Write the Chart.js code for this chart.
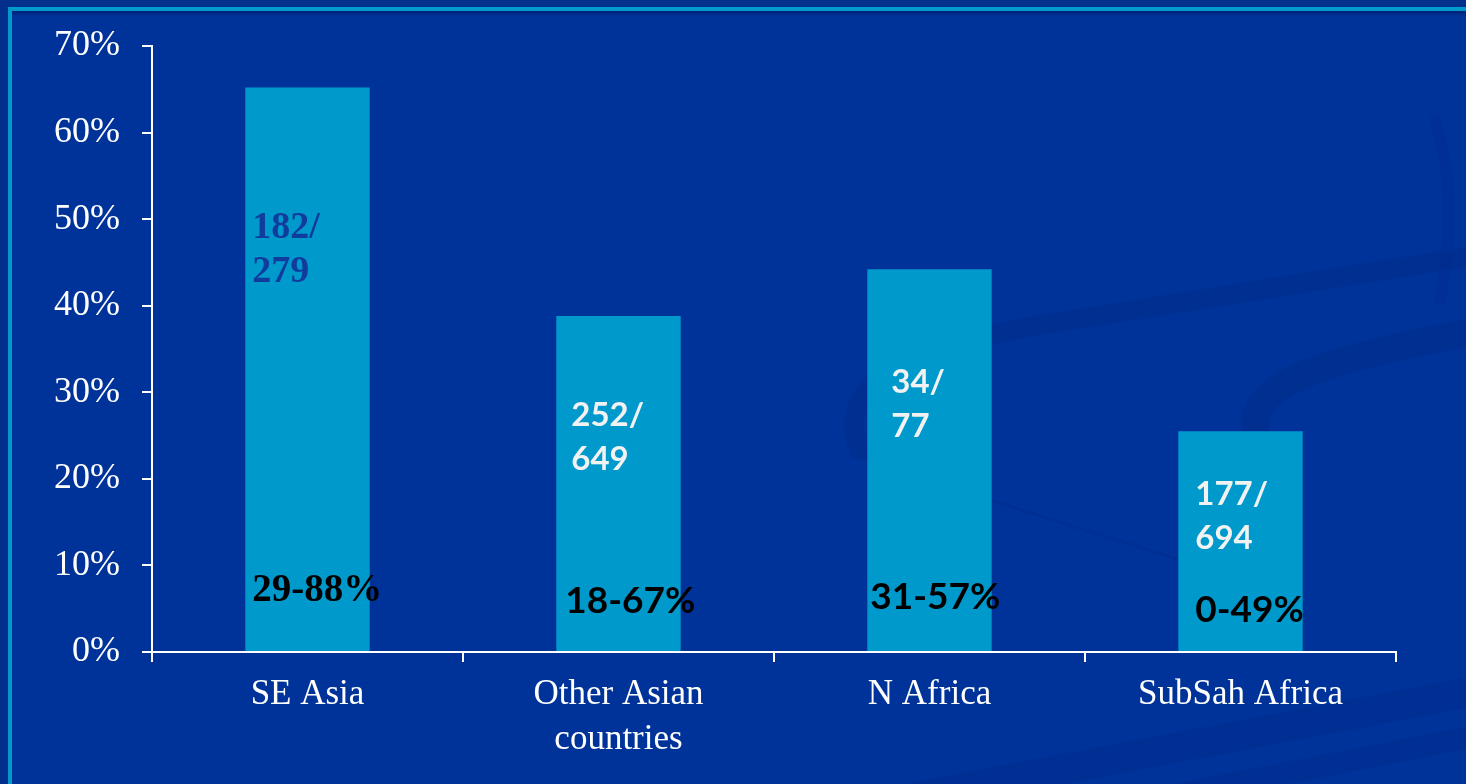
<!DOCTYPE html>
<html>
<head>
<meta charset="utf-8">
<script src="https://cdn.jsdelivr.net/npm/chart.js@4/dist/chart.umd.min.js"></script>
<style>
  html, body { margin: 0; padding: 0; background: #003399; }
  #wrap { width: 1466px; height: 784px; }
</style>
</head>
<body>
<div id="wrap"><canvas id="chart" width="1466" height="784"></canvas></div>
<script>
// regions and share of positives (%)
const categories = ['SE Asia', ['Other Asian', 'countries'], 'N Africa', 'SubSah Africa'];
const shares = [65.2, 38.8, 44.2, 25.5];
const positives = [182, 252, 34, 177];
const tested = [279, 649, 77, 694];
const ranges = ['29-88%', '18-67%', '31-57%', '0-49%'];
const yTicks = [0, 10, 20, 30, 40, 50, 60, 70];

// where each note sits: offset from bar's left edge, value-axis heights
const notePlacement = [
  { dxCount: 7,  countAt: 48.9, dxRange: 7,  rangeAt: 7.0 },
  { dxCount: 15, countAt: 27.3, dxRange: 9,  rangeAt: 5.9 },
  { dxCount: 24, countAt: 31.1, dxRange: 3,  rangeAt: 6.4 },
  { dxCount: 17, countAt: 18.2, dxRange: 17, rangeAt: 4.9 },
];

const SERIF = '"Liberation Serif", "Times New Roman", serif';
const SANS = 'Lato, "Noto Sans", sans-serif';

// slide backdrop: frame line, shadow and faint swooshes
const backdrop = {
  id: 'backdrop',
  beforeDraw(chart) {
    const c = chart.ctx;
    const w = chart.width, h = chart.height;
    c.save();
    c.fillStyle = '#002f8c';
    c.fillRect(0, 0, w, h);
    c.fillStyle = '#003399';
    c.fillRect(11, 11, w - 11, h - 11);

    // soft shadow under the top rule
    const g = c.createLinearGradient(0, 11, 0, 16);
    g.addColorStop(0, 'rgba(0,25,100,0.7)');
    g.addColorStop(1, 'rgba(0,25,100,0)');
    c.fillStyle = g;
    c.fillRect(11, 11, w - 11, 5);

    c.lineCap = 'round';
    c.strokeStyle = 'rgba(0,35,120,0.2)';
    c.lineWidth = 20;
    c.beginPath();
    c.moveTo(860, 450);
    c.bezierCurveTo(830, 380, 920, 345, 1040, 325);
    c.lineTo(1480, 255);
    c.stroke();

    c.lineWidth = 28;
    c.beginPath();
    c.moveTo(1255, 430);
    c.bezierCurveTo(1250, 380, 1330, 360, 1480, 330);
    c.stroke();

    c.lineWidth = 3;
    c.strokeStyle = 'rgba(0,35,120,0.18)';
    c.beginPath();
    c.moveTo(990, 500);
    c.lineTo(1180, 560);
    c.stroke();

    c.lineWidth = 12;
    c.strokeStyle = 'rgba(0,35,120,0.12)';
    c.beginPath();
    c.moveTo(1435, 120);
    c.bezierCurveTo(1455, 180, 1450, 250, 1440, 300);
    c.stroke();

    c.lineWidth = 30;
    c.strokeStyle = 'rgba(0,35,120,0.18)';
    c.beginPath();
    c.moveTo(900, 800);
    c.lineTo(1480, 690);
    c.stroke();
    c.lineWidth = 22;
    c.beginPath();
    c.moveTo(1150, 800);
    c.lineTo(1480, 735);
    c.stroke();

    // cyan frame rule, top and left
    c.fillStyle = '#0099cc';
    c.fillRect(8, 7, w - 8, 4);
    c.fillRect(8, 7, 4, h - 7);
    c.restore();
  }
};

// counts and ranges written inside the bars
const barNotes = {
  id: 'barNotes',
  afterDatasetsDraw(chart) {
    const c = chart.ctx;
    const y = chart.scales.y;
    const bars = chart.getDatasetMeta(0).data;
    c.save();
    c.textAlign = 'left';
    c.textBaseline = 'middle';
    bars.forEach((bar, i) => {
      const left = bar.x - bar.width / 2;
      const p = notePlacement[i];
      const top = y.getPixelForValue(p.countAt);
      if (i === 0) {
        c.font = 'bold 38px ' + SERIF;
        c.fillStyle = '#103c9e';
      } else {
        c.font = 'bold 33px ' + SANS;
        c.fillStyle = '#f2f2f2';
      }
      c.fillText(positives[i] + '/', left + p.dxCount, top);
      c.fillText(String(tested[i]), left + p.dxCount, top + 44);

      c.fillStyle = '#000000';
      c.font = i === 0 ? 'bold 39px ' + SERIF : 'bold 37px ' + SANS;
      c.fillText(ranges[i], left + p.dxRange, y.getPixelForValue(p.rangeAt));
    });
    c.restore();
  }
};

new Chart(document.getElementById('chart'), {
  type: 'bar',
  data: {
    labels: categories,
    datasets: [{
      data: shares,
      backgroundColor: '#0099cc',
      borderWidth: 0,
      categoryPercentage: 1,
      barPercentage: 0.4,
    }]
  },
  options: {
    responsive: false,
    animation: false,
    layout: { padding: { top: 46, right: 70, left: 0, bottom: 0 } },
    plugins: {
      legend: { display: false },
      tooltip: { enabled: false },
    },
    scales: {
      x: {
        afterFit(scale) { scale.height = 132; },
        grid: { offset: true, drawOnChartArea: false, color: '#ffffff', lineWidth: 2, tickLength: 10 },
        border: { display: true, color: '#ffffff', width: 2 },
        ticks: {
          color: '#ffffff',
          padding: 11,
          maxRotation: 0,
          font: { family: SERIF, size: 35, lineHeight: 1.27 },
        },
      },
      y: {
        min: 0,
        max: 70,
        afterFit(scale) { scale.width = 152; },
        afterBuildTicks(scale) { scale.ticks = yTicks.map(v => ({ value: v })); },
        grid: { drawOnChartArea: false, color: '#ffffff', lineWidth: 2, tickLength: 10 },
        border: { display: true, color: '#ffffff', width: 2 },
        ticks: {
          color: '#ffffff',
          padding: 22,
          font: { family: SERIF, size: 36 },
          callback: v => v + '%',
        },
      },
    },
  },
  plugins: [backdrop, barNotes],
});
</script>
</body>
</html>
